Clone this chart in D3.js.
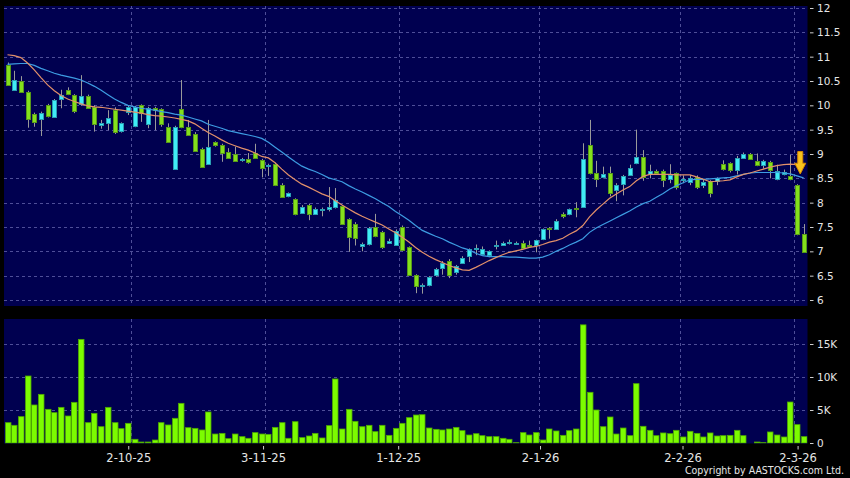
<!DOCTYPE html>
<html><head><meta charset="utf-8">
<script src="https://cdn.jsdelivr.net/npm/d3@7"></script>
<style>html,body{margin:0;padding:0;background:#000;}svg{display:block;}</style>
</head><body>
<svg id="chart" width="850" height="478"></svg>
<script>
// ---- data ----
const opens = [10.83,10.33,10.49,10.28,9.82,9.71,10.00,9.77,10.14,10.32,10.21,10.03,10.20,9.96,9.59,9.62,9.90,9.46,9.86,9.58,
10.00,9.63,9.95,9.92,9.56,8.70,9.92,9.56,9.42,9.11,8.81,9.24,9.19,9.05,9.01,8.86,8.89,9.02,8.87,8.76,
8.79,8.37,8.13,8.07,7.79,7.96,7.78,7.85,7.87,7.90,7.93,7.66,7.57,7.11,7.14,7.50,7.40,7.18,7.13,7.51,
7.09,6.51,6.29,6.30,6.50,6.67,6.81,6.58,6.76,6.90,7.05,6.95,6.91,7.12,7.14,7.16,7.18,7.18,7.14,7.12,
7.25,7.47,7.46,7.76,7.76,7.90,7.91,9.19,8.61,8.52,8.61,8.25,8.38,8.57,8.81,8.93,8.59,8.66,8.66,8.47,
8.61,8.48,8.42,8.53,8.36,8.44,8.43,8.79,8.81,8.68,8.93,9.01,8.86,8.77,8.84,8.50,8.60,8.54,8.36,7.36];
const highs = [10.88,10.71,10.60,10.30,9.85,9.87,10.03,10.13,10.32,10.37,10.23,10.62,10.22,10.00,9.70,9.90,9.96,9.65,10.00,9.99,
10.02,9.97,9.97,9.94,9.63,9.58,10.52,9.70,9.45,9.13,9.70,9.26,9.21,9.12,9.15,8.92,9.02,9.21,8.90,8.80,
8.82,8.40,8.21,8.09,7.95,7.98,7.90,7.90,8.32,8.30,7.95,7.68,7.60,7.18,7.50,7.77,7.42,7.26,7.45,7.53,
7.10,6.53,6.34,6.49,6.66,6.80,6.84,6.72,6.90,7.06,7.14,7.10,7.02,7.22,7.20,7.24,7.20,7.22,7.22,7.24,
7.47,7.50,7.66,7.80,7.88,8.01,9.22,9.70,8.86,8.74,8.74,8.40,8.57,8.78,9.50,9.08,8.78,8.68,8.68,8.79,
8.62,8.56,8.57,8.56,8.47,8.46,8.52,8.87,8.83,8.96,9.03,9.02,9.01,8.88,8.86,8.78,8.68,8.98,8.38,7.56];
const lows = [10.40,10.31,10.26,9.54,9.56,9.37,9.75,9.76,9.94,10.21,9.84,9.99,9.94,9.46,9.52,9.49,9.41,9.44,9.80,9.55,
9.66,9.53,9.49,9.56,9.23,8.68,9.53,9.37,9.06,8.72,8.78,9.15,8.84,8.90,8.84,8.84,8.80,8.90,8.52,8.55,
8.34,8.10,8.11,7.74,7.77,7.64,7.76,7.72,7.82,7.88,7.54,6.99,7.12,7.00,7.12,7.29,7.05,7.15,7.11,7.00,
6.50,6.14,6.13,6.28,6.48,6.52,6.45,6.52,6.74,6.78,6.92,6.93,6.88,7.04,7.12,7.14,7.15,7.05,7.10,6.98,
7.23,7.26,7.44,7.68,7.74,7.70,7.89,8.58,8.32,8.50,8.13,8.03,8.15,8.55,8.79,8.45,8.50,8.58,8.32,8.40,
8.27,8.40,8.36,8.28,8.30,8.11,8.36,8.66,8.62,8.58,8.91,8.88,8.75,8.70,8.50,8.46,8.56,8.46,7.33,6.97];
const closes = [10.42,10.53,10.27,9.72,9.66,9.84,9.77,10.11,10.22,10.23,9.88,10.20,9.95,9.62,9.63,9.73,9.44,9.63,9.96,9.97,
9.84,9.95,9.90,9.61,9.25,9.56,9.55,9.39,9.08,8.74,9.15,9.17,9.02,8.93,8.86,8.89,8.82,8.92,8.70,8.77,
8.36,8.13,8.19,7.76,7.92,7.77,7.88,7.88,7.91,8.05,7.56,7.30,7.29,7.16,7.47,7.31,7.09,7.22,7.42,7.03,
6.52,6.29,6.31,6.47,6.63,6.77,6.52,6.70,6.87,7.04,7.06,7.05,7.00,7.13,7.18,7.19,7.18,7.07,7.13,7.23,
7.45,7.44,7.62,7.71,7.86,7.87,8.90,8.61,8.49,8.58,8.19,8.36,8.55,8.71,8.93,8.52,8.65,8.62,8.47,8.56,
8.32,8.49,8.50,8.32,8.43,8.19,8.50,8.68,8.67,8.92,9.01,8.91,8.77,8.86,8.67,8.66,8.64,8.48,7.35,6.98];
const volumes = [3080,2680,3990,10150,5760,7370,5100,4600,5400,4090,6160,15700,3080,4490,2470,5400,3080,2170,2980,560,
150,150,450,3080,2730,3740,6010,2320,2220,1970,4700,1360,1460,660,1360,960,710,1570,1360,1310,
2370,3080,710,3230,810,1060,1460,760,2630,9700,2120,5100,3280,2470,2680,1720,2680,1160,2220,2980,
3840,4240,4290,2270,2070,1970,2120,2370,1870,1210,1410,1110,960,960,710,560,50,1570,1210,1570,
450,2120,1820,1160,1870,2120,17900,7680,5000,2470,3940,1360,2270,1110,8990,2530,1920,1110,1520,1410,
1920,910,1770,1460,910,1520,1060,1110,1160,1920,1110,0,150,50,1670,1210,910,6210,2780,960];
const maShort = [11.04,11.02,10.98,10.87,10.73,10.57,10.42,10.30,10.20,10.13,10.08,10.03,9.99,9.97,9.96,9.94,9.92,9.90,9.88,9.86,
9.84,9.81,9.79,9.78,9.76,9.74,9.71,9.68,9.62,9.53,9.44,9.37,9.29,9.22,9.17,9.12,9.08,9.02,8.95,8.92,
8.82,8.69,8.57,8.47,8.38,8.32,8.25,8.18,8.13,8.04,7.95,7.87,7.79,7.72,7.66,7.60,7.54,7.46,7.38,7.29,
7.19,7.08,6.98,6.90,6.83,6.77,6.71,6.66,6.62,6.61,6.67,6.74,6.81,6.87,6.93,6.98,7.01,7.04,7.08,7.10,
7.14,7.19,7.22,7.27,7.35,7.42,7.53,7.71,7.85,7.97,8.09,8.18,8.26,8.33,8.45,8.54,8.58,8.58,8.58,8.58,
8.57,8.57,8.57,8.53,8.48,8.43,8.44,8.45,8.47,8.53,8.58,8.61,8.65,8.69,8.73,8.76,8.78,8.79,8.78,8.74];
const maLong = [10.84,10.85,10.86,10.86,10.82,10.76,10.71,10.66,10.62,10.59,10.56,10.52,10.46,10.39,10.31,10.22,10.13,10.06,10.00,9.97,
9.94,9.92,9.90,9.87,9.85,9.82,9.80,9.76,9.72,9.68,9.61,9.57,9.53,9.48,9.45,9.42,9.39,9.36,9.32,9.24,
9.14,9.04,8.94,8.84,8.75,8.69,8.64,8.58,8.51,8.47,8.43,8.35,8.28,8.22,8.15,8.08,8.00,7.92,7.82,7.73,
7.64,7.53,7.43,7.37,7.31,7.26,7.19,7.13,7.07,7.03,6.96,6.91,6.89,6.89,6.89,6.88,6.88,6.87,6.86,6.86,
6.88,6.93,7.00,7.06,7.13,7.19,7.26,7.39,7.48,7.55,7.62,7.69,7.76,7.83,7.91,7.98,8.03,8.11,8.19,8.28,
8.35,8.41,8.47,8.48,8.48,8.49,8.50,8.51,8.52,8.55,8.58,8.61,8.62,8.62,8.62,8.62,8.61,8.59,8.55,8.51];
const priceTicks = [6,6.5,7,7.5,8,8.5,9,9.5,10,10.5,11,11.5,12];
const volTicks = [0,5000,10000,15000];
const volTickLabels = ["0","5K","10K","15K"];
const monthStartIdx = [19,39,59,80,101,118];
const xLabels = ["2-10-25","3-11-25","1-12-25","2-1-26","2-2-26","2-3-26"];
const xLabelIdx = [18.05,38.2,58.4,79.6,100.9,118.1];

// ---- layout ----
const svg = d3.select("#chart");
const W = 850, H = 478;
const plotL = 4, plotR = 807.5;
const pTop = 6, pBot = 306, vTop = 319, vBot = 443.5;
const NAVY = "#000050", GRID = "#4e4e98", TXT = "#e6e6e6";
const n = closes.length;

const x = d3.scaleLinear().domain([0, n - 1]).range([7.5, 803.6]);
const yP = d3.scaleLinear().domain([6, 12]).range([300, 8]);
const yV = d3.scaleLinear().domain([0, 15000]).range([443, 344]);
const step = x(1) - x(0);

svg.append("rect").attr("width", W).attr("height", H).attr("fill", "#000");
svg.append("rect").attr("x", plotL).attr("y", pTop).attr("width", plotR - plotL).attr("height", pBot - pTop).attr("fill", NAVY);
svg.append("rect").attr("x", plotL).attr("y", vTop).attr("width", plotR - plotL).attr("height", vBot - vTop).attr("fill", NAVY);

const defs = svg.append("defs");
defs.append("clipPath").attr("id", "clipP").append("rect")
  .attr("x", plotL).attr("y", pTop).attr("width", plotR - plotL).attr("height", pBot - pTop);
defs.append("clipPath").attr("id", "clipV").append("rect")
  .attr("x", plotL).attr("y", vTop).attr("width", plotR - plotL).attr("height", vBot - vTop);

// grids
const gP = svg.append("g").attr("clip-path", "url(#clipP)");
const gV = svg.append("g").attr("clip-path", "url(#clipV)");
const crisp = v => Math.round(v) + 0.5;
gP.selectAll("line.h").data(priceTicks).join("line")
  .attr("x1", plotL).attr("x2", plotR).attr("y1", d => crisp(yP(d))).attr("y2", d => crisp(yP(d)))
  .attr("stroke", GRID).attr("stroke-dasharray", "3,3");
gP.selectAll("line.v").data(monthStartIdx).join("line").attr("class","v")
  .attr("x1", d => crisp(x(d - 0.5))).attr("x2", d => crisp(x(d - 0.5))).attr("y1", pTop).attr("y2", pBot)
  .attr("stroke", GRID).attr("stroke-dasharray", "3,3");
gV.selectAll("line.h").data(volTicks.slice(1)).join("line").attr("class","h")
  .attr("x1", plotL).attr("x2", plotR).attr("y1", d => crisp(yV(d))).attr("y2", d => crisp(yV(d)))
  .attr("stroke", GRID).attr("stroke-dasharray", "3,3");
gV.selectAll("line.v").data(monthStartIdx).join("line").attr("class","v")
  .attr("x1", d => crisp(x(d - 0.5))).attr("x2", d => crisp(x(d - 0.5))).attr("y1", vTop).attr("y2", vBot)
  .attr("stroke", GRID).attr("stroke-dasharray", "3,3");

// candles
const idx = d3.range(n);
const UP_F = "#40ecf6", UP_S = "#2a9fb4", DN_F = "#84e01c", DN_S = "#57991a";
const cg = gP.append("g");
cg.selectAll("line.wick").data(idx).join("line").attr("class", "wick")
  .attr("x1", i => crisp(x(i))).attr("x2", i => crisp(x(i)))
  .attr("y1", i => yP(highs[i])).attr("y2", i => yP(lows[i]))
  .attr("stroke", "#9a9a9a").attr("stroke-width", 1);
const bw = 5;
cg.selectAll("rect.body").data(idx).join("rect").attr("class", "body")
  .attr("x", i => Math.round(x(i)) - 2 + 0.5)
  .attr("width", bw - 1)
  .attr("y", i => Math.round(yP(Math.max(opens[i], closes[i]))) + 0.5)
  .attr("height", i => Math.max(1, Math.round(Math.abs(yP(opens[i]) - yP(closes[i])))))
  .attr("fill", i => closes[i] >= opens[i] ? UP_F : DN_F)
  .attr("stroke", i => closes[i] >= opens[i] ? UP_S : DN_S)
  .attr("stroke-width", 1);

// moving averages
const line = d3.line().x((d, i) => x(i)).y(d => yP(d));
gP.append("path").datum(maLong).attr("d", line).attr("fill", "none").attr("stroke", "#3d9ce2").attr("stroke-width", 1.2);
gP.append("path").datum(maShort).attr("d", line).attr("fill", "none").attr("stroke", "#e2906a").attr("stroke-width", 1.2);

// arrow marker at the end
const ax = x(118.5), aTop = yP(9.05), aNeck = yP(8.81), aTip = yP(8.59);
svg.append("path")
  .attr("d", `M${ax-2.5},${aTop} L${ax+2.5},${aTop} L${ax+2.5},${aNeck} L${ax+5.5},${aNeck} L${ax},${aTip} L${ax-5.5},${aNeck} L${ax-2.5},${aNeck} Z`)
  .attr("fill", "#f7c21c").attr("stroke", "#d88a00").attr("stroke-width", 1);

// volume bars
gV.selectAll("rect.vol").data(idx).join("rect").attr("class", "vol")
  .attr("x", i => Math.round(x(i)) - 2.5)
  .attr("width", 5.5)
  .attr("y", i => yV(volumes[i]))
  .attr("height", i => Math.max(0, yV(0) - yV(volumes[i])))
  .attr("fill", "#7cfc00").attr("stroke", "#4ea800").attr("stroke-width", 0.8);

// axes
const fmtP = d3.format("");
const axP = svg.append("g").attr("transform", "translate(810,0)")
  .call(d3.axisRight(yP).tickValues(priceTicks).tickFormat(fmtP).tickSize(3.5).tickPadding(3.5));
const axV = svg.append("g").attr("transform", "translate(810,0)")
  .call(d3.axisRight(yV).tickValues(volTicks).tickFormat((d, i) => volTickLabels[i]).tickSize(3.5).tickPadding(3.5));
const axX = svg.append("g").attr("transform", "translate(0,446)")
  .call(d3.axisBottom(x).tickValues(xLabelIdx).tickFormat((d, i) => xLabels[i]).tickSize(3.5).tickPadding(4.5));
[axP, axV, axX].forEach(a => {
  a.select(".domain").remove();
  a.selectAll(".tick line").attr("stroke", "#cfcfcf");
  a.selectAll("text").attr("fill", TXT).style("font-family", "'DejaVu Sans', Verdana, sans-serif");
});
axP.selectAll("text").style("font-size", "10.5px");
axV.selectAll("text").style("font-size", "10.5px");
axX.selectAll("text").style("font-size", "11.5px");

svg.append("text").attr("x", 844).attr("y", 474).attr("text-anchor", "end")
  .attr("fill", TXT).style("font-family", "'DejaVu Sans Condensed', 'DejaVu Sans', sans-serif")
  .style("font-stretch", "condensed").style("font-size", "10.5px")
  .text("Copyright by AASTOCKS.com Ltd.");
</script>
</body></html>
